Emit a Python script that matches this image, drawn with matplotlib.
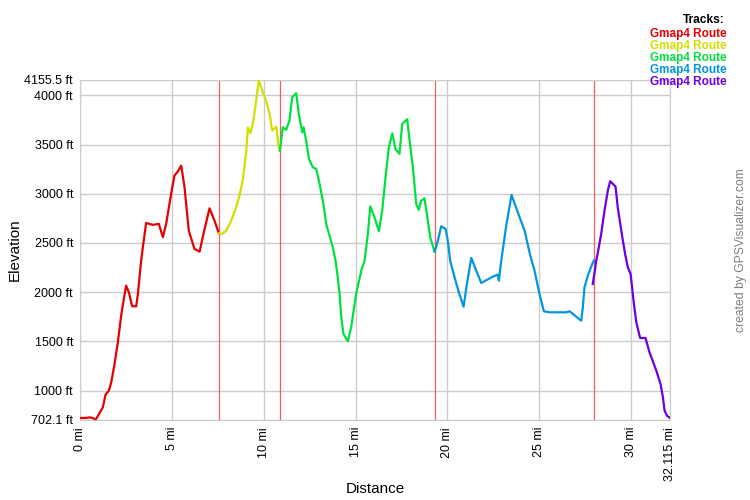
import matplotlib.pyplot as plt

plt.rcParams['font.family'] = ['Liberation Sans', 'DejaVu Sans']

# track segments: distance (mi) and elevation (ft)
red_mi = [0, 0.34, 0.52, 0.7, 0.84, 1.06, 1.24, 1.39, 1.57, 1.70, 1.88, 2.06, 2.24, 2.37, 2.51,
          2.66, 2.84, 3.06, 3.15, 3.33, 3.42, 3.60, 3.96, 4.29, 4.51, 4.69, 4.96, 5.14, 5.32,
          5.51, 5.69, 5.92, 6.23, 6.51, 6.72, 7.05, 7.32, 7.56]
red_ft = [723, 723, 729, 723, 702, 770, 830, 960, 1000, 1084, 1271, 1491, 1762, 1914, 2067,
          1999, 1857, 1857, 1982, 2321, 2456, 2704, 2684, 2694, 2558, 2694, 2999, 3184, 3225,
          3286, 3066, 2626, 2440, 2412, 2592, 2852, 2727, 2598]

yellow_mi = [7.56, 7.74, 7.96, 8.23, 8.50, 8.68, 8.86, 9.05, 9.14, 9.27, 9.41, 9.59, 9.73,
             9.95, 10.13, 10.32, 10.46, 10.68, 10.82, 10.88]
yellow_ft = [2598, 2592, 2626, 2727, 2862, 2981, 3134, 3438, 3675, 3614, 3710, 3946, 4155.5,
             4031, 3946, 3811, 3642, 3682, 3472, 3438]

green_mi = [10.88, 11.04, 11.22, 11.40, 11.55, 11.77, 11.91, 12.10, 12.17, 12.31, 12.46, 12.67,
            12.86, 13.04, 13.22, 13.40, 13.58, 13.76, 13.91, 14.03, 14.13, 14.22, 14.34, 14.58,
            14.76, 15.03, 15.31, 15.49, 15.67, 15.80, 16.03, 16.27, 16.45, 16.63, 16.81, 17.00,
            17.17, 17.39, 17.54, 17.81, 17.94, 18.12, 18.30, 18.44, 18.57, 18.75, 18.88, 19.06,
            19.30]
green_ft = [3438, 3675, 3649, 3743, 3980, 4021, 3811, 3624, 3675, 3540, 3354, 3269,
            3252, 3100, 2930, 2694, 2575, 2456, 2321, 2151, 1982, 1745, 1576, 1501,
            1643, 1982, 2219, 2321, 2592, 2872, 2761, 2619, 2829, 3167, 3472, 3614,
            3455, 3405, 3710, 3757, 3540, 3269, 2897, 2836, 2930, 2954, 2795, 2558,
            2412]

blue_mi = [19.30, 19.48, 19.66, 19.90, 20.02, 20.15, 20.39, 20.62, 20.88, 21.06, 21.30, 21.57,
           21.84, 22.47, 22.74, 22.80, 22.93, 23.20, 23.49, 23.83, 24.20, 24.50, 24.74, 25.01,
           25.25, 25.56, 26.47, 26.65, 27.01, 27.28, 27.37, 27.46, 27.64, 27.88, 27.97]
blue_ft = [2412, 2524, 2669, 2643, 2524, 2321, 2151, 1999, 1853, 2084, 2348, 2219,
           2094, 2158, 2179, 2118, 2321, 2676, 2988, 2812, 2626, 2380, 2219, 1982,
           1806, 1796, 1796, 1806, 1752, 1711, 1846, 2050, 2168, 2287, 2321]

purple_mi = [27.91, 28.01, 28.10, 28.19, 28.37, 28.55, 28.73, 28.86, 29.15, 29.27, 29.52,
             29.68, 29.82, 29.97, 30.13, 30.28, 30.49, 30.78, 31.0, 31.37, 31.60, 31.73,
             31.82, 31.95, 32.115]
purple_ft = [2084, 2202, 2321, 2405, 2592, 2829, 3032, 3127, 3073, 2862, 2558,
             2380, 2253, 2185, 1914, 1694, 1535, 1535, 1389, 1203, 1068, 932,
             797, 746, 723]

segments = [(red_mi, red_ft, '#e60000'),
            (yellow_mi, yellow_ft, '#d2e000'),
            (green_mi, green_ft, '#00e040'),
            (blue_mi, blue_ft, '#0096e1'),
            (purple_mi, purple_ft, '#6a00e6')]
track_names = ['Gmap4 Route'] * 5
breaks = [7.56, 10.88, 19.30, 27.97]

x_ticks = [0, 5, 10, 15, 20, 25, 30, 32.115]
x_labels = ['0 mi', '5 mi', '10 mi', '15 mi', '20 mi', '25 mi', '30 mi', '32.115 mi']
y_ticks = [702.1, 1000, 1500, 2000, 2500, 3000, 3500, 4000, 4155.5]
y_labels = ['702.1 ft', '1000 ft', '1500 ft', '2000 ft', '2500 ft', '3000 ft', '3500 ft',
            '4000 ft', '4155.5 ft']

fig = plt.figure(figsize=(7.5, 5), dpi=100)
ax = fig.add_axes([80 / 750, 80 / 500, 590 / 750, 340 / 500])

for b in breaks:
    ax.axvline(b, color='#f06060', lw=0.9, zorder=2)

for mi, ft, c in segments:
    ax.plot(mi, ft, color=c, lw=1.6, zorder=3)

ax.set_xlim(0, 32.115)
ax.set_ylim(702.1, 4155.5)
ax.set_xticks(x_ticks)
ax.set_xticklabels(x_labels, rotation=90, fontsize=9)
ax.set_yticks(y_ticks)
ax.set_yticklabels(y_labels, fontsize=9)
ax.tick_params(length=0, pad=5)
ax.grid(True, color='#cccccc', lw=1)
for s in ax.spines.values():
    s.set_color('#cccccc')

fig.text(375 / 750, 1 - 489 / 500, 'Distance', ha='center', va='center', fontsize=11)
fig.text(15 / 750, 0.5, 'Elevation', rotation=90, ha='center', va='center', fontsize=11)

fig.text(725 / 750, 1 - 20 / 500, 'Tracks:', ha='right', va='center',
         fontsize=8.6, fontweight='bold', color='black')
for i, (name, seg) in enumerate(zip(track_names, segments)):
    fig.text(727 / 750, 1 - (34.5 + 11.8 * i) / 500, name, ha='right', va='center',
             fontsize=8.5, fontweight='bold', color=seg[2])

fig.text(741 / 750, 0.5, 'created by GPSVisualizer.com', rotation=90, ha='center',
         va='center', fontsize=8.7, color='#808080')

fig.savefig('out.png', dpi=100)
